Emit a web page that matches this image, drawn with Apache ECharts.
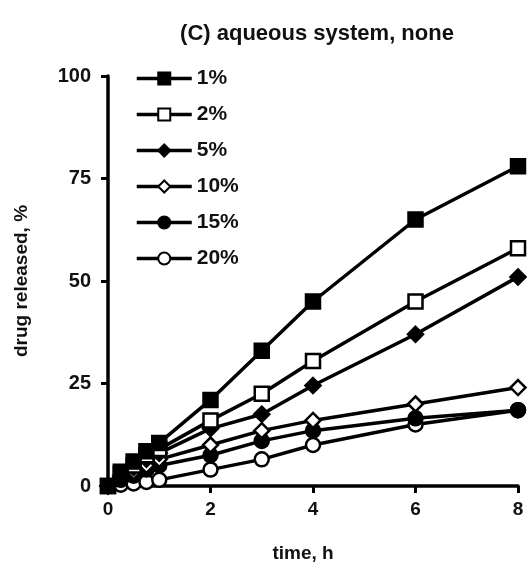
<!DOCTYPE html>
<html>
<head>
<meta charset="utf-8">
<script src="https://cdn.jsdelivr.net/npm/echarts@6/dist/echarts.min.js"></script>
<style>
html,body{margin:0;padding:0;background:#fff;}
#chart{width:532px;height:574px;}
</style>
</head>
<body>
<div id="chart"></div>
<script>
var titleText = '(C) aqueous system, none';
var xName = 'time, h';
var yName = 'drug released, %';
var times = [0, 0.25, 0.5, 0.75, 1, 2, 3, 4, 6, 8];
var seriesNames = ['1%', '2%', '5%', '10%', '15%', '20%'];
var s1 = [0, 3.5, 6, 8.5, 10.5, 21, 33, 45, 65, 78];
var s2 = [0, 3, 5, 7.5, 9, 16, 22.5, 30.5, 45, 58];
var s5 = [0, 2.5, 4.5, 6.5, 8, 14, 17.5, 24.5, 37, 51];
var s10 = [0, 2, 3.5, 5, 6.5, 10, 13.5, 16, 20, 24];
var s15 = [0, 1.5, 2.5, 4, 5, 7.5, 11, 13.5, 16.5, 18.5];
var s20 = [0, 0.3, 0.6, 1, 1.5, 4, 6.5, 10, 15, 18.5];
var values = [s1, s2, s5, s10, s15, s20];
var symbols = ['rect', 'rect', 'diamond', 'diamond', 'circle', 'circle'];
var filled = [true, false, true, false, true, false];
var sizes = [14, 14, 15, 15, 14, 14];

var font = '"Liberation Sans", Arial, sans-serif';
var chart = echarts.init(document.getElementById('chart'));

var series = seriesNames.map(function (name, i) {
  return {
    name: name,
    type: 'line',
    data: times.map(function (t, j) { return [t, values[i][j]]; }),
    symbol: symbols[i],
    symbolSize: sizes[i],
    showAllSymbol: true,
    lineStyle: { color: '#000', width: 3.5 },
    itemStyle: { color: filled[i] ? '#000' : '#fff', borderColor: '#000', borderWidth: 2.5 },
    z: 10 - i,
    animation: false
  };
});

chart.setOption({
  backgroundColor: '#fff',
  animation: false,
  title: {
    text: titleText,
    left: 312,
    textAlign: 'center',
    top: 18,
    textStyle: { fontFamily: font, fontWeight: 'bold', fontSize: 22, color: '#111' }
  },
  legend: {
    orient: 'vertical',
    left: 130,
    top: 63,
    itemWidth: 55,
    itemHeight: 15,
    itemGap: 15,
    data: seriesNames,
    lineStyle: { width: 3.5, color: '#000' },
    textStyle: { fontFamily: font, fontWeight: 'bold', fontSize: 21, color: '#111', padding: [0, 0, 0, 0] }
  },
  grid: { left: 108, right: 14, top: 76, bottom: 88, containLabel: false },
  xAxis: {
    type: 'value',
    min: 0, max: 8, interval: 2,
    name: xName,
    nameLocation: 'middle',
    nameGap: 58,
    nameTextStyle: { fontFamily: font, fontWeight: 'bold', fontSize: 19, color: '#111', padding: [0, 20, 0, 0] },
    axisLine: { lineStyle: { color: '#000', width: 3.5 } },
    axisTick: { show: true, length: 7, lineStyle: { color: '#000', width: 3 } },
    axisLabel: { margin: 14, fontFamily: font, fontWeight: 'bold', fontSize: 19, color: '#111' },
    splitLine: { show: false }
  },
  yAxis: {
    type: 'value',
    min: 0, max: 100, interval: 25,
    name: yName,
    nameLocation: 'middle',
    nameGap: 77,
    nameTextStyle: { fontFamily: font, fontWeight: 'bold', fontSize: 19, color: '#111' },
    axisLine: { lineStyle: { color: '#000', width: 3.5 } },
    axisTick: { show: true, length: 7, lineStyle: { color: '#000', width: 3 } },
    axisLabel: { margin: 17, fontFamily: font, fontWeight: 'bold', fontSize: 20, color: '#111' },
    splitLine: { show: false }
  },
  series: series
});
</script>
</body>
</html>
